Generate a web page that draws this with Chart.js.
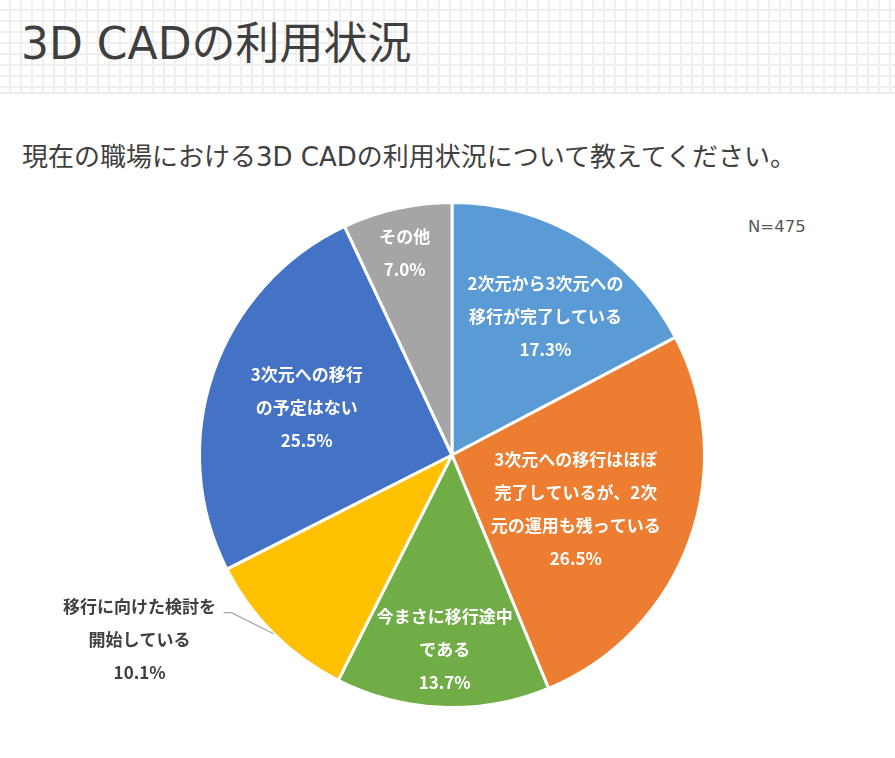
<!DOCTYPE html>
<html>
<head>
<meta charset="utf-8">
<script src="https://cdn.jsdelivr.net/npm/chart.js@4"></script>
<style>
  html, body { margin: 0; padding: 0; background: #fff; }
  body { width: 895px; height: 758px; position: relative; overflow: hidden;
         font-family: "Noto Sans CJK JP", "Noto Sans", sans-serif; }
  .header { position: absolute; left: 0; top: 0; width: 895px; height: 92px;
    background-color: #fff;
    background-image:
      repeating-linear-gradient(to bottom, transparent 0 9px, #efefef 9px 11px),
      repeating-linear-gradient(to right, transparent 0 9px, #efefef 9px 11px);
    border-bottom: 2px solid #ececec; }
  .title { position: absolute; left: 21px; top: 8px; font-size: 44px; color: #3f3f3f;
           font-family: "DejaVu Sans", "Noto Sans CJK JP", sans-serif;
           font-weight: 400; white-space: nowrap; }
  .subtitle { position: absolute; left: 22px; top: 136px; font-size: 26px; color: #404040;
              font-family: "DejaVu Sans", "Noto Sans CJK JP", sans-serif;
              white-space: nowrap; }
  .nlabel { position: absolute; left: 748px; top: 217px; font-size: 16.5px; color: #595959;
            font-family: "DejaVu Sans", sans-serif; }
  .wrap { position: absolute; left: 0; top: 201px; width: 895px; height: 508px; }
</style>
</head>
<body>
<div class="header"><div class="title">3D CADの利用状況</div></div>
<div class="subtitle">現在の職場における3D CADの利用状況について教えてください。</div>
<div class="nlabel">N=475</div>
<div class="wrap"><canvas id="pie"></canvas></div>
<script>
// data
const categories = [
  '2次元から3次元への移行が完了している',
  '3次元への移行はほぼ完了しているが、2次元の運用も残っている',
  '今まさに移行途中である',
  '移行に向けた検討を開始している',
  '3次元への移行の予定はない',
  'その他'
];
const values = [17.3, 26.5, 13.7, 10.1, 25.5, 7.0];
const labelLines = [
  ['2次元から3次元への', '移行が完了している'],
  ['3次元への移行はほぼ', '完了しているが、2次', '元の運用も残っている'],
  ['今まさに移行途中', 'である'],
  ['移行に向けた検討を', '開始している'],
  ['3次元への移行', 'の予定はない'],
  ['その他']
];
const colors = ['#5B9BD5', '#ED7D31', '#70AD47', '#FFC000', '#4472C4', '#A5A5A5'];

// label placement: radius fraction, angle shift (deg), outside flag
const labelPlace = [
  { r: 0.66, shift: 3 },
  { r: 0.535, shift: 3.7 },
  { r: 0.77, shift: 0 },
  { outside: true },
  { r: 0.605, shift: -1 },
  { r: 0.82, shift: -0.6 }
];

const labelPlugin = {
  id: 'pieLabels',
  afterDraw(chart) {
    const ctx = chart.ctx;
    const meta = chart.getDatasetMeta(0);
    const lineH = 33;
    ctx.save();
    ctx.textAlign = 'center';
    ctx.textBaseline = 'middle';
    ctx.font = 'bold 17px "Noto Sans CJK JP", sans-serif';
    meta.data.forEach((arc, i) => {
      const p = arc.getProps(['x', 'y', 'startAngle', 'endAngle', 'outerRadius'], true);
      const mid = (p.startAngle + p.endAngle) / 2;
      const lines = labelLines[i].concat([values[i].toFixed(1) + '%']);
      const place = labelPlace[i];
      if (place.outside) {
        // leader line from arc edge
        const ex = p.x + Math.cos(mid) * p.outerRadius;
        const ey = p.y + Math.sin(mid) * p.outerRadius;
        const kx = ex - 42, ky = ey - 21;
        ctx.strokeStyle = '#a6a6a6';
        ctx.lineWidth = 1.2;
        ctx.beginPath();
        ctx.moveTo(ex, ey);
        ctx.lineTo(kx, ky);
        ctx.lineTo(kx - 8, ky);
        ctx.stroke();
        ctx.fillStyle = '#404040';
        const cx = kx - 92, cy = ky + 27;
        lines.forEach((t, k) => {
          ctx.fillText(t, cx, cy + (k - (lines.length - 1) / 2) * lineH);
        });
      } else {
        const a = mid + place.shift * Math.PI / 180;
        const cx = p.x + Math.cos(a) * p.outerRadius * place.r;
        const cy = p.y + Math.sin(a) * p.outerRadius * place.r;
        ctx.fillStyle = '#ffffff';
        lines.forEach((t, k) => {
          ctx.fillText(t, cx, cy + (k - (lines.length - 1) / 2) * lineH);
        });
      }
    });
    ctx.restore();
  }
};

new Chart(document.getElementById('pie'), {
  type: 'pie',
  data: {
    labels: categories,
    datasets: [{
      data: values,
      backgroundColor: colors,
      borderColor: '#ffffff',
      borderWidth: 3
    }]
  },
  options: {
    responsive: true,
    maintainAspectRatio: false,
    animation: false,
    layout: { padding: { left: 9 } },
    plugins: {
      legend: { display: false },
      tooltip: { enabled: false }
    }
  },
  plugins: [labelPlugin]
});
</script>
</body>
</html>
